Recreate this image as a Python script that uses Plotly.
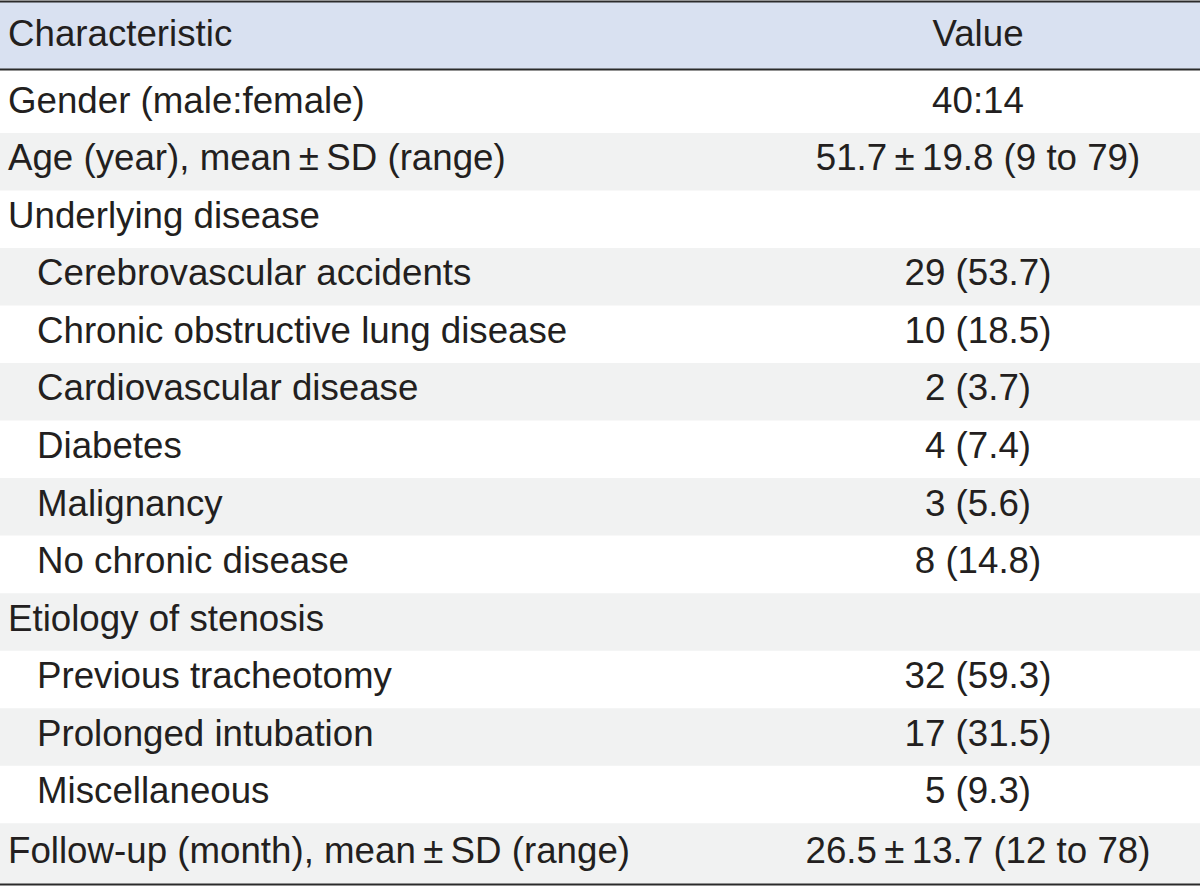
import plotly.graph_objects as go

# table content
header = ["Characteristic", "Value"]
characteristics = [
    "Gender (male:female)",
    "Age (year), mean\u2009\u00b1\u2009SD (range)",
    "Underlying disease",
    "Cerebrovascular accidents",
    "Chronic obstructive lung disease",
    "Cardiovascular disease",
    "Diabetes",
    "Malignancy",
    "No chronic disease",
    "Etiology of stenosis",
    "Previous tracheotomy",
    "Prolonged intubation",
    "Miscellaneous",
    "Follow-up (month), mean\u2009\u00b1\u2009SD (range)",
]
values = [
    "40:14",
    "51.7\u2009\u00b1\u200919.8 (9 to 79)",
    "",
    "29 (53.7)",
    "10 (18.5)",
    "2 (3.7)",
    "4 (7.4)",
    "3 (5.6)",
    "8 (14.8)",
    "",
    "32 (59.3)",
    "17 (31.5)",
    "5 (9.3)",
    "26.5\u2009\u00b1\u200913.7 (12 to 78)",
]
level = [0, 0, 0, 1, 1, 1, 1, 1, 1, 0, 1, 1, 1, 0]

W, H = 1200, 887
FONT = "Liberation Sans, Arial, sans-serif"
TXT = "#231f20"
SIZE = 36.7
header_bottom = 69.5
row1_top = 132.9
row_h = 57.53
table_bottom = 884.5
x_main, x_sub, x_val = 8, 37, 978

n = len(characteristics)
tops = [header_bottom] + [row1_top + (i - 1) * row_h for i in range(1, n)]
bottoms = tops[1:] + [table_bottom]
centers = [(t + b) / 2 - 0.5 for t, b in zip(tops, bottoms)]
centers[0] = row1_top - row_h / 2 - 0.5

shapes = [
    dict(type="rect", x0=0, x1=W, y0=1.5, y1=header_bottom,
         fillcolor="#d9e1f1", line_width=0, layer="below"),
]
for i in range(n):
    if i % 2 == 1:
        shapes.append(dict(type="rect", x0=0, x1=W, y0=tops[i], y1=bottoms[i],
                           fillcolor="#f1f2f2", line_width=0, layer="below"))
for y in [1.5, header_bottom, table_bottom]:
    shapes.append(dict(type="line", x0=0, x1=W, y0=y, y1=y,
                       line=dict(color="#2b2b2b", width=2)))

fig = go.Figure()
fig.add_trace(go.Scatter(
    x=[x_main if lv == 0 else x_sub for lv in level],
    y=centers, text=characteristics, mode="text",
    textposition="middle right",
    textfont=dict(family=FONT, size=SIZE, color=TXT),
    hoverinfo="skip", showlegend=False,
))
fig.add_trace(go.Scatter(
    x=[x_val] * n, y=centers, text=values, mode="text",
    textposition="middle center",
    textfont=dict(family=FONT, size=SIZE, color=TXT),
    hoverinfo="skip", showlegend=False,
))
fig.add_trace(go.Scatter(
    x=[x_main, x_val], y=[37, 37], text=header, mode="text",
    textposition=["middle right", "middle center"],
    textfont=dict(family=FONT, size=SIZE, color=TXT),
    hoverinfo="skip", showlegend=False,
))

fig.update_layout(
    width=W, height=H,
    margin=dict(l=0, r=0, t=0, b=0),
    paper_bgcolor="white", plot_bgcolor="white",
    shapes=shapes,
    xaxis=dict(range=[0, W], visible=False, fixedrange=True),
    yaxis=dict(range=[H, 0], visible=False, fixedrange=True),
)
# drop the browser's default page margin so the figure fills the window
fig.write_html("out.html", config={"displayModeBar": False},
               post_script="document.body.style.margin='0';")
